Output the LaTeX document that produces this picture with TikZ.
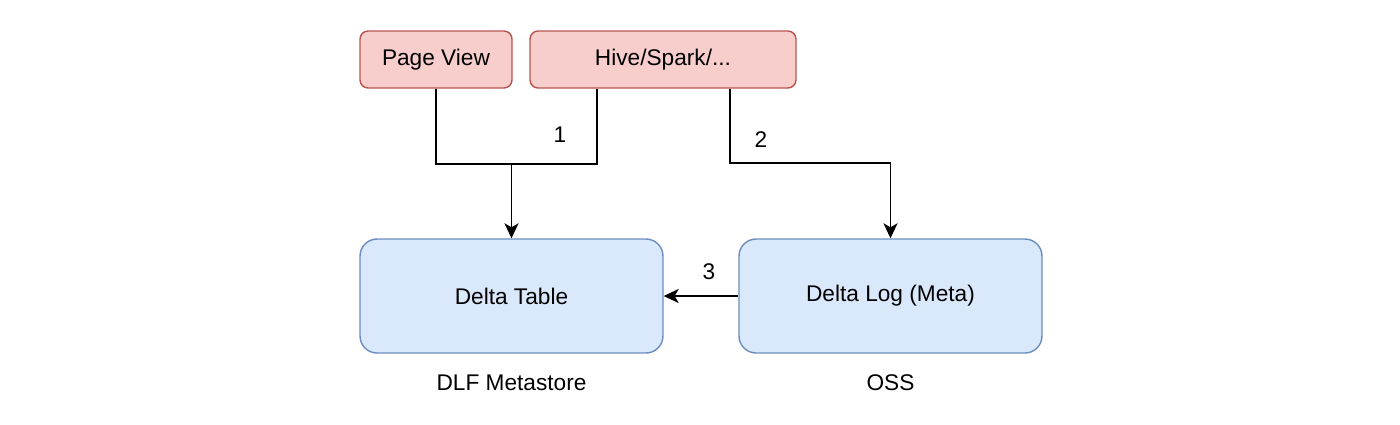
\documentclass[tikz,border=0pt]{standalone}
\usepackage{fontspec}
\setmainfont{Liberation Sans}
\usepackage{xcolor}
\usetikzlibrary{arrows.meta,positioning,calc}
\definecolor{srcfill}{HTML}{F8CECC}
\definecolor{srcline}{HTML}{B85450}
\definecolor{tblfill}{HTML}{DAE8FC}
\definecolor{tblline}{HTML}{6C8EBF}

\begin{document}
\begin{tikzpicture}[
    x=0.02cm, y=-0.02cm,
    font=\fontsize{12.9}{15}\selectfont,
    source/.style={rectangle, draw=srcline, fill=srcfill, line width=0.8pt, rounded corners=0.16cm, minimum height=1.14cm, inner sep=0pt},
    store/.style={rectangle, draw=tblline, fill=tblfill, line width=0.8pt, rounded corners=0.34cm, minimum width=6.06cm, minimum height=2.28cm, inner sep=0pt},
    arrow/.style={-{Stealth[length=3mm, width=2.8mm, inset=0.8mm]}, line width=1.1pt},
    link/.style={line width=1.1pt}
]
    \useasboundingbox (0,0) rectangle (1400,424);

    \node[source, minimum width=3.04cm] (pageview) at (436,59.5) {Page View};
    \node[source, minimum width=5.32cm] (hive) at (663,59.5) {Hive/Spark/...};

    \node[store] (deltatable) at (511.5,296) {Delta Table};
    \node[store] (deltalog) at (890.5,296) {Delta Log (Meta)};

    \node (dlf) at (511.5,383) {DLF Metastore};
    \node (oss) at (890.5,383) {OSS};

    \coordinate (merge) at (511.5,164);
    \coordinate (hiveleft) at ($(hive.south)+(-66,0)$);
    \coordinate (hiveright) at ($(hive.south)+(67,0)$);

    % 1: writes go to the metastore
    \draw[link] (pageview.south) |- (merge);
    \draw[link] (hiveleft) |- (merge);
    \draw[arrow] (merge) -- (deltatable.north);
    \node (one) at (560,135) {1};

    % 2: writes go to the log
    \draw[arrow] (hiveright) |- ($(deltalog.north)+(0,-75)$) -- (deltalog.north);
    \node (two) at (761,140) {2};

    % 3: sync
    \draw[arrow] (deltalog.west) -- (deltatable.east);
    \node (three) at (709,272) {3};
\end{tikzpicture}
\end{document}
